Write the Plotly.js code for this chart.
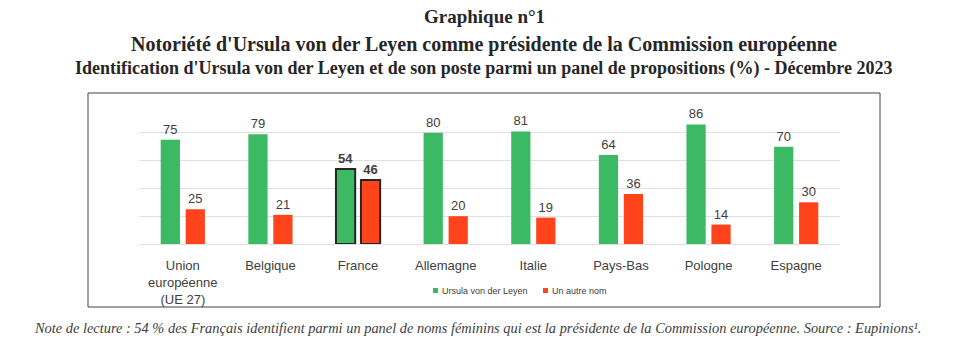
<!DOCTYPE html>
<html><head><meta charset="utf-8">
<script src="https://cdn.plot.ly/plotly-3.0.1.min.js"></script>
<style>html,body{margin:0;padding:0;background:#fff}#chart{width:968px;height:355px}</style>
</head><body><div id="chart"></div>
<script>
const categories = ["Union<br>européenne<br>(UE 27)", "Belgique", "France", "Allemagne", "Italie", "Pays-Bas", "Pologne", "Espagne"];
const ursula = [75, 79, 54, 80, 81, 64, 86, 70];
const autre = [25, 21, 46, 20, 19, 36, 14, 30];
const highlight = "France";
const seriesNames = ["Ursula von der Leyen", "Un autre nom"];
const seriesColors = ['#3CB963', '#FF431A'];

const isHi = categories.map(c => c === highlight);
function mkTrace(vals, name, color) {
  return {
    type: 'bar', x: categories, y: vals, name: name,
    marker: {color: color, line: {color: isHi.map(h => h ? '#262626' : color), width: isHi.map(h => h ? 2 : 0)}},
    text: vals.map((v, i) => isHi[i] ? '<b>' + v + '</b>' : String(v)),
    textposition: 'outside', cliponaxis: false,
    textfont: {family: 'Liberation Sans, Arial', size: 13, color: '#404040'},
    hoverinfo: 'skip', showlegend: false
  };
}
const data = [mkTrace(ursula, seriesNames[0], seriesColors[0]), mkTrace(autre, seriesNames[1], seriesColors[1])];

// pixel -> paper helpers for the plot area (l=139, w=701, bottom=244, h=139)
const px = v => (v - 139) / 701;
const py = v => (244 - v) / 139;

const serif = 'Liberation Serif, Times New Roman, serif';
const legendX = [433, 543];
const shapes = [{type: 'rect', xref: 'paper', yref: 'paper', x0: px(88), x1: px(880), y0: py(307), y1: py(93),
  line: {color: '#404040', width: 1}, fillcolor: 'rgba(0,0,0,0)'}];
const annotations = [
  {text: '<b>Graphique n°1</b>', xref: 'paper', yref: 'paper', x: px(484), y: py(17), xanchor: 'center', yanchor: 'middle', showarrow: false,
    font: {family: serif, size: 19, color: '#262626'}},
  {text: "<b>Notoriété d'Ursula von der Leyen comme présidente de la Commission européenne</b>", xref: 'paper', yref: 'paper', x: px(484), y: py(44), xanchor: 'center', yanchor: 'middle', showarrow: false,
    font: {family: serif, size: 20, color: '#262626'}},
  {text: "<b>Identification d'Ursula von der Leyen et de son poste parmi un panel de propositions (%) - Décembre 2023</b>", xref: 'paper', yref: 'paper', x: px(484), y: py(68), xanchor: 'center', yanchor: 'middle', showarrow: false,
    font: {family: serif, size: 18, color: '#262626'}},
  {text: "<i>Note de lecture : 54 % des Français identifient parmi un panel de noms féminins qui est la présidente de la Commission européenne. Source : Eupinions¹.</i>", xref: 'paper', yref: 'paper', x: px(477), y: py(328), xanchor: 'center', yanchor: 'middle', showarrow: false,
    font: {family: serif, size: 14.4, color: '#404040'}}
];
seriesNames.forEach((name, i) => {
  shapes.push({type: 'rect', xref: 'paper', yref: 'paper', x0: px(legendX[i]), x1: px(legendX[i] + 5), y0: py(293), y1: py(288),
    line: {width: 0}, fillcolor: seriesColors[i]});
  annotations.push({text: name, xref: 'paper', yref: 'paper', x: px(legendX[i] + 7), y: py(290.5), xanchor: 'left', yanchor: 'middle', showarrow: false,
    font: {family: 'Liberation Sans, Arial', size: 9, color: '#404040'}});
});

const layout = {
  width: 968, height: 355,
  margin: {l: 139, r: 128, t: 105, b: 111},
  paper_bgcolor: '#fff', plot_bgcolor: '#fff',
  barmode: 'group', bargap: 0.43, bargroupgap: 0.23,
  showlegend: false,
  xaxis: {tickfont: {family: 'Liberation Sans, Arial', size: 13, color: '#404040'}, showline: false, ticks: '', fixedrange: true,
    ticklabelstandoff: 12},
  yaxis: {range: [0, 100], dtick: 20, showticklabels: false, showgrid: true, gridcolor: '#e0e0e0', gridwidth: 1,
    zeroline: true, zerolinecolor: '#e0e0e0', zerolinewidth: 1, showline: false, ticks: ''},
  shapes: shapes,
  annotations: annotations
};
Plotly.newPlot('chart', data, layout, {staticPlot: true});
</script></body></html>
